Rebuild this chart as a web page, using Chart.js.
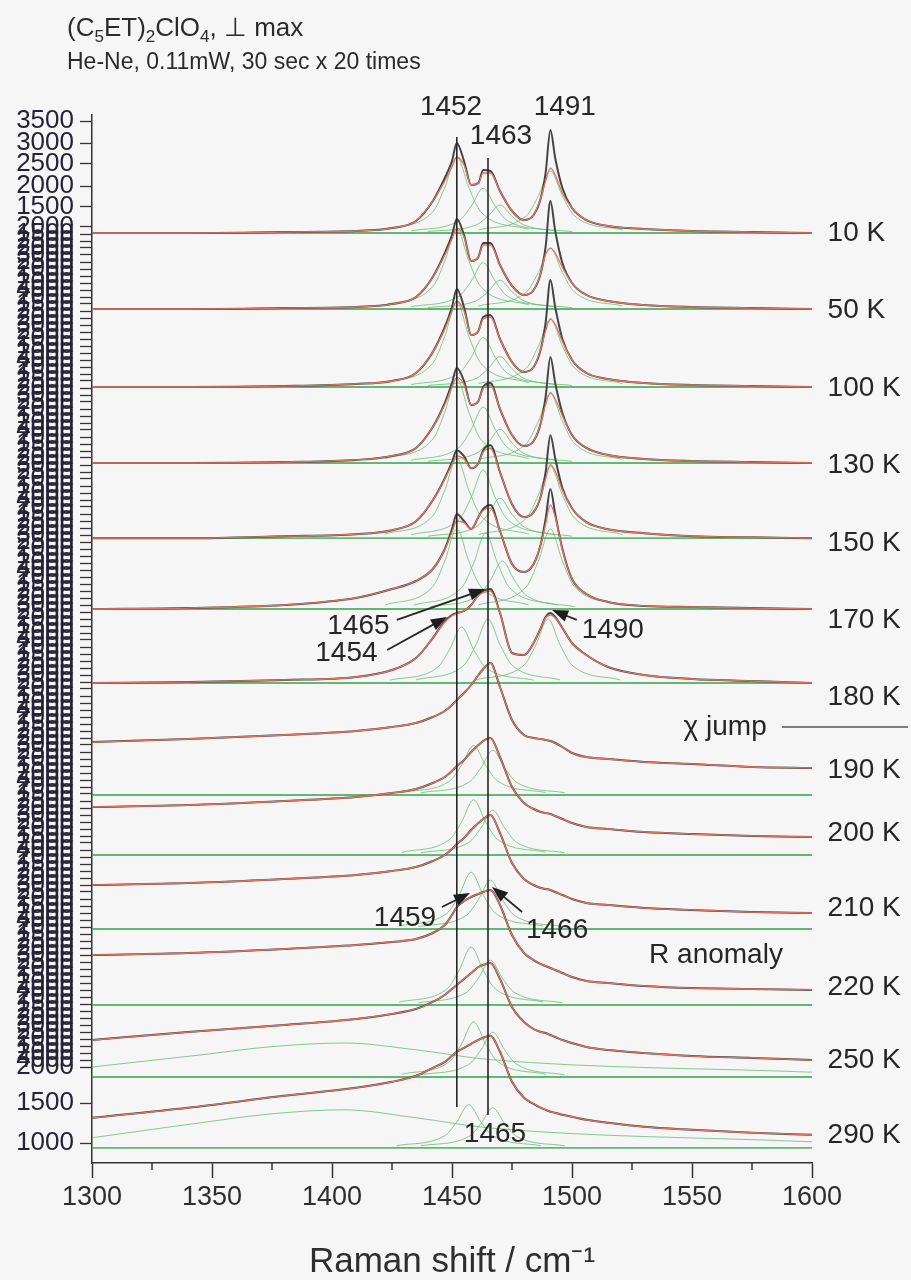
<!DOCTYPE html>
<html>
<head>
<meta charset="utf-8">
<script src="https://cdn.jsdelivr.net/npm/chart.js@4.4.1/dist/chart.umd.min.js"></script>
<style>
html, body { margin: 0; padding: 0; background: #f6f6f6; }
#wrap { position: relative; width: 911px; height: 1280px; }
#chart { position: absolute; left: 0; top: 0; }
.ttl { position: absolute; left: 67px; font-family: 'Liberation Sans', Arial, sans-serif; color: #2b2b2b; white-space: nowrap; }
.ttl sub { font-size: 17px; vertical-align: -6px; line-height: 0; }
</style>
</head>
<body>
<div id="wrap">
  <canvas id="chart" width="911" height="1280"></canvas>
  <div class="ttl" style="top:12px;font-size:26px">(C<sub>5</sub>ET)<sub>2</sub>ClO<sub>4</sub>, &#8869; max</div>
  <div class="ttl" style="top:48px;font-size:23px">He-Ne, 0.11mW, 30 sec x 20 times</div>
</div>
<script>
// Raman shift grid (cm-1) shared by all measured spectra
const ramanShift = [1300,1340,1380,1410,1425,1435,1442,1447,1450,1452,1455,1458,1461,1463,1466,1470,1475,1480,1484,1487,1489,1491,1493,1496,1500,1506,1515,1530,1550,1575,1600];

const temperatures = ['10 K','50 K','100 K','130 K','150 K','170 K','180 K','190 K','200 K','210 K','220 K','250 K','290 K'];
// vertical offset (counts) of every trace = its fitted background level
const baselineLevel = [12375, 11425, 10450, 9500, 8560, 7675, 6750, 5350, 4600, 3675, 2725, 1825, 940];
// height of the temperature label at the right end
const labelLevel = [12375, 11412, 10438, 9475, 8500, 7538, 6575, 5662, 4875, 3938, 2950, 2038, 1100];

// measured (black) and fitted (red) intensities above background, counts
const obs10K  = [0,0,12,25,62,150,400,688,900,1125,900,600,625,788,775,525,275,162,225,438,750,1288,938,562,312,162,88,50,25,12,0];
const fit10K  = [0,0,12,25,62,150,400,650,825,950,850,600,625,750,750,525,275,162,225,438,650,812,725,500,312,162,88,50,25,12,0];
const obs50K  = [0,0,12,25,62,150,400,700,925,1125,925,600,650,825,825,550,288,175,238,450,775,1350,975,575,325,175,100,50,25,12,0];
const fit50K  = [0,0,12,25,62,150,400,675,875,1012,900,600,650,800,800,550,288,175,238,450,680,762,700,520,325,175,100,50,25,12,0];
const obs100K = [0,0,12,38,75,175,438,750,1000,1225,1000,650,700,875,900,600,312,188,250,475,800,1338,1000,600,338,175,100,50,25,12,0];
const fit100K = [0,0,12,38,75,175,438,725,950,1075,950,650,700,850,875,600,312,188,250,475,700,850,780,570,338,175,100,50,25,12,0];
const obs130K = [0,0,12,38,88,188,450,750,1000,1188,1025,725,775,950,1000,675,350,212,275,500,825,1325,1000,625,350,188,100,50,25,12,0];
const fit130K = [0,0,12,38,88,188,450,730,950,1070,980,725,775,930,975,675,350,212,275,500,730,880,800,590,350,188,100,50,25,12,0];
const obs150K = [0,0,25,50,100,212,475,750,950,1100,1025,875,938,1100,1162,825,425,262,325,525,825,1288,1000,625,375,200,112,62,25,12,0];
const fit150K = [0,0,25,50,100,212,475,740,920,1030,990,875,938,1080,1120,825,425,262,325,525,740,920,840,600,375,200,112,62,25,12,0];
const obs170K = [0,12,50,138,250,350,500,750,1000,1188,1100,1000,1150,1250,1300,975,562,462,562,812,1125,1500,1188,750,375,188,88,38,25,12,0];
const fit170K = [0,12,50,138,250,350,500,740,960,1100,1080,1000,1150,1230,1260,975,562,462,562,812,1060,1300,1150,740,375,188,88,38,25,12,0];
const obs180K = [0,12,38,75,162,312,562,775,850,875,900,975,1100,1150,1175,875,375,350,500,688,825,875,825,688,500,350,200,100,50,25,0];
const fit180K = [0,12,38,75,162,312,562,760,840,870,900,975,1090,1130,1150,875,375,350,500,688,815,850,815,688,500,350,200,100,50,25,0];
const obs190K = [662,700,750,800,850,900,975,1050,1125,1188,1275,1375,1500,1575,1650,1350,938,750,712,700,688,675,650,600,525,475,450,412,388,350,338];
const obs200K = [600,625,675,725,775,825,900,975,1050,1112,1188,1288,1375,1425,1462,1225,850,650,575,538,525,512,488,450,400,350,325,288,262,238,225];
const obs210K = [550,575,625,675,725,775,850,925,1000,1062,1138,1238,1325,1375,1425,1200,825,625,550,512,500,488,462,425,375,325,300,262,238,212,200];
const obs220K = [625,650,700,750,788,825,900,1000,1125,1225,1300,1350,1388,1412,1438,1250,875,650,562,512,488,462,438,400,350,300,275,238,212,200,188];
const obs250K = [462,562,650,725,788,850,938,1025,1100,1150,1225,1300,1375,1400,1425,1225,875,688,600,562,550,525,500,462,425,375,338,300,262,238,212];
const obs290K = [375,500,650,750,825,900,1000,1075,1150,1200,1250,1300,1350,1375,1400,1200,825,625,550,500,475,450,438,412,388,350,312,262,225,188,162];

const observedSeries = [obs10K, obs50K, obs100K, obs130K, obs150K, obs170K, obs180K, obs190K, obs200K, obs210K, obs220K, obs250K, obs290K];
const fittedSeries   = [fit10K, fit50K, fit100K, fit130K, fit150K, fit170K, fit180K, obs190K, obs200K, obs210K, obs220K, obs250K, obs290K];

// Lorentzian components (green): [centre, heights at the offsets below, kind]
const narrowOffsets = [-30,-10,-5,0,5,10,30];
const broadOffsets  = [-105,-60,-30,0,30,60,195];
const comp10K  = [[1452,[45,265,570,950,570,265,45]],[1463,[28,155,335,560,335,155,28]],[1470,[18,100,210,350,210,100,18]],[1491,[38,215,465,775,465,215,38]]];
const comp50K  = [[1452,[50,280,600,1000,600,280,50]],[1463,[29,162,348,580,348,162,29]],[1470,[18,100,216,360,216,100,18]],[1491,[38,212,456,760,456,212,38]]];
const comp100K = [[1452,[53,297,636,1060,636,297,53]],[1463,[31,174,372,620,372,174,31]],[1470,[19,106,228,380,228,106,19]],[1491,[42,238,510,850,510,238,42]]];
const comp130K = [[1452,[53,297,636,1060,636,297,53]],[1463,[35,196,420,700,420,196,35]],[1470,[21,118,252,420,252,118,21]],[1491,[44,244,522,870,522,244,44]]];
const comp150K = [[1452,[50,280,600,1000,600,280,50]],[1463,[42,238,510,850,510,238,42]],[1470,[25,140,300,500,300,140,25]],[1491,[45,252,540,900,540,252,45]]];
const comp170K = [[1452,[50,280,600,1000,600,280,50]],[1464,[48,266,570,950,570,266,48]],[1471,[30,168,360,600,360,168,30]],[1491,[50,280,600,1000,600,280,50]]];
const comp180K = [[1454,[35,196,420,700,420,196,35]],[1465,[40,224,480,800,480,224,40]],[1490,[40,224,480,800,480,224,40]]];
const comp190K = [[1459,[31,174,372,620,372,174,31]],[1467,[28,157,336,560,336,157,28]]];
const comp200K = [[1459,[35,193,414,690,414,193,35]],[1467,[28,157,336,560,336,157,28]]];
const comp210K = [[1458,[36,200,426,710,426,200,36]],[1466,[30,170,366,610,366,170,30]]];
const comp220K = [[1458,[36,203,435,725,435,203,36]],[1466,[28,157,336,560,336,157,28]]];
const comp250K = [[1405,[125,275,380,425,340,220,60],'broad'],[1459,[35,193,414,690,414,193,35]],[1467,[28,157,336,560,336,157,28]]];
const comp290K = [[1405,[125,312,425,475,375,250,75],'broad'],[1457,[27,151,324,540,324,151,27]],[1467,[25,140,300,500,300,140,25]]];
const componentSeries = [comp10K, comp50K, comp100K, comp130K, comp150K, comp170K, comp180K, comp190K, comp200K, comp210K, comp220K, comp250K, comp290K];

// y tick labels (every layer of the original has its own axis, so they pile up)
const yTopTickValues = [13775, 13500, 13238, 12962, 12700];
const yTopTickLabels = ['3500', '3000', '2500', '2000', '1500'];
const yStackLabels = ['2000', '1500', '2500', '2000', '3000', '2500', '2000', '1500', '2000', '4000'];
const yStackFrom = 1875, yStackTo = 12450, yStackStep = 87.5;
const yBottomTickValues = [1500, 1000];
const yBottomTickLabels = ['1500', '1000'];
const xMinorTicks = [1325, 1375, 1425, 1475, 1525, 1575];

// marked peak positions and notes (Raman shift, counts)
const peakLines = [{at: 1452, from: 13575, to: 1450}, {at: 1465, from: 13312, to: 1350}];
const peakNotes = [
  {text: '1452', x: 1449.6, y: 13950}, {text: '1491', x: 1497, y: 13950}, {text: '1463', x: 1470.4, y: 13588},
  {text: '1465', x: 1411, y: 7462}, {text: '1454', x: 1406, y: 7125}, {text: '1490', x: 1517, y: 7412},
  {text: '1459', x: 1430.4, y: 3812}, {text: '1466', x: 1493.8, y: 3662}, {text: 'R anomaly', x: 1560, y: 3350},
  {text: '1465', x: 1467.9, y: 1112}, {text: '\u03C7 jump', x: 1563.8, y: 6200}
];
const peakArrows = [
  {from: [1427, 7538], to: [1463.8, 7925]}, {from: [1423, 7162], to: [1447.9, 7575]},
  {from: [1502, 7538], to: [1491.7, 7662]}, {from: [1445.8, 3950], to: [1457.5, 4125]},
  {from: [1479.2, 3888], to: [1466.7, 4200]}
];
const jumpLine = {from: 1587.5, to: 1640, y: 6200};

const yTicks = [];
yTopTickValues.forEach((v, i) => yTicks.push({value: v, label: yTopTickLabels[i]}));
for (let v = yStackTo, k = 0; v >= yStackFrom; v -= yStackStep, k++) {
  yTicks.push({value: v, label: yStackLabels[k % yStackLabels.length]});
}
yBottomTickValues.forEach((v, i) => yTicks.push({value: v, label: yBottomTickLabels[i]}));

const GREEN = 'rgba(72,170,95,0.85)';
const GREEN_LIGHT = 'rgba(95,185,110,0.75)';
const RED = '#e3735f';
const DARK = '#454545';

const datasets = [];
temperatures.forEach((t, i) => {
  const base = baselineLevel[i];
  datasets.push({
    label: t + ' background',
    data: [{x: 1300, y: base}, {x: 1600, y: base}],
    borderColor: GREEN, borderWidth: 1.8, order: 3
  });
  componentSeries[i].forEach(c => {
    const offs = c[2] === 'broad' ? broadOffsets : narrowOffsets;
    datasets.push({
      label: t + ' ' + c[0],
      data: offs.map((o, j) => ({x: c[0] + o, y: base + c[1][j]})),
      borderColor: GREEN_LIGHT, borderWidth: 1, order: 4,
      cubicInterpolationMode: 'monotone'
    });
  });
  datasets.push({
    label: t + ' measured',
    data: ramanShift.map((x, j) => ({x, y: base + observedSeries[i][j]})),
    borderColor: DARK, borderWidth: 2, order: 2,
    cubicInterpolationMode: 'monotone'
  });
  datasets.push({
    label: t + ' fit',
    data: ramanShift.map((x, j) => ({x, y: base + fittedSeries[i][j]})),
    borderColor: RED, borderWidth: 1.3, order: 1,
    cubicInterpolationMode: 'monotone'
  });
});

const notesPlugin = {
  id: 'notes',
  afterDraw(chart) {
    const {ctx, scales: {x, y}} = chart;
    ctx.save();
    ctx.strokeStyle = '#262626';
    ctx.lineWidth = 1.6;
    peakLines.forEach(l => {
      ctx.beginPath();
      ctx.moveTo(x.getPixelForValue(l.at), y.getPixelForValue(l.from));
      ctx.lineTo(x.getPixelForValue(l.at), y.getPixelForValue(l.to));
      ctx.stroke();
    });
    // arrows
    ctx.fillStyle = '#1e1e1e';
    ctx.lineWidth = 1.8;
    peakArrows.forEach(a => {
      const x0 = x.getPixelForValue(a.from[0]), y0 = y.getPixelForValue(a.from[1]);
      const x1 = x.getPixelForValue(a.to[0]), y1 = y.getPixelForValue(a.to[1]);
      const ang = Math.atan2(y1 - y0, x1 - x0);
      ctx.beginPath();
      ctx.moveTo(x0, y0);
      ctx.lineTo(x1 - 10 * Math.cos(ang), y1 - 10 * Math.sin(ang));
      ctx.stroke();
      ctx.beginPath();
      ctx.moveTo(x1, y1);
      ctx.lineTo(x1 - 16 * Math.cos(ang) + 6 * Math.sin(ang), y1 - 16 * Math.sin(ang) - 6 * Math.cos(ang));
      ctx.lineTo(x1 - 16 * Math.cos(ang) - 6 * Math.sin(ang), y1 - 16 * Math.sin(ang) + 6 * Math.cos(ang));
      ctx.closePath();
      ctx.fill();
    });
    // chi jump marker line
    ctx.strokeStyle = '#555';
    ctx.lineWidth = 1.4;
    ctx.beginPath();
    ctx.moveTo(x.getPixelForValue(jumpLine.from), y.getPixelForValue(jumpLine.y));
    ctx.lineTo(x.getPixelForValue(jumpLine.to), y.getPixelForValue(jumpLine.y));
    ctx.stroke();
    // x minor ticks
    ctx.strokeStyle = '#333';
    ctx.lineWidth = 1.5;
    xMinorTicks.forEach(v => {
      const px = x.getPixelForValue(v);
      ctx.beginPath();
      ctx.moveTo(px, chart.chartArea.bottom);
      ctx.lineTo(px, chart.chartArea.bottom + 7);
      ctx.stroke();
    });
    // texts
    ctx.fillStyle = '#262626';
    ctx.font = '28px "Liberation Sans", Arial, sans-serif';
    ctx.textAlign = 'center';
    ctx.textBaseline = 'middle';
    peakNotes.forEach(n => ctx.fillText(n.text, x.getPixelForValue(n.x), y.getPixelForValue(n.y)));
    ctx.textAlign = 'left';
    temperatures.forEach((t, i) => ctx.fillText(t, x.getPixelForValue(1606.5), y.getPixelForValue(labelLevel[i])));
    ctx.restore();
  }
};

Chart.defaults.font.family = "'Liberation Sans', Arial, sans-serif";

new Chart(document.getElementById('chart'), {
  type: 'line',
  data: {datasets},
  options: {
    responsive: false,
    animation: false,
    layout: {padding: {left: 0, right: 99, top: 115, bottom: 0}},
    elements: {point: {radius: 0}, line: {tension: 0}},
    plugins: {legend: {display: false}, tooltip: {enabled: false}},
    scales: {
      x: {
        type: 'linear', min: 1300, max: 1600,
        afterFit: s => { s.height = 117; },
        ticks: {stepSize: 50, color: '#2e2e2e', font: {size: 27}, padding: 3, maxRotation: 0,
                callback: v => String(v)},
        grid: {drawOnChartArea: false, tickLength: 15, tickColor: '#333', tickWidth: 1.5},
        border: {color: '#333', width: 1.5},
        title: {display: true, text: 'Raman shift / cm\u207B\u00B9', color: '#2e2e2e', font: {size: 35, lineHeight: 1}, padding: {top: 0, bottom: 0}}
      },
      y: {
        type: 'linear', min: 750, max: 13850,
        afterFit: s => { s.width = 92; },
        afterBuildTicks: s => { s.ticks = yTicks.map(t => ({value: t.value})); },
        ticks: {autoSkip: false, color: '#262335', font: {size: 26}, padding: 6,
                callback: (v, i) => yTicks[i] ? yTicks[i].label : ''},
        grid: {drawOnChartArea: false, tickLength: 12, tickColor: '#333', tickWidth: 1.3},
        border: {color: '#333', width: 1.5}
      }
    }
  },
  plugins: [notesPlugin]
});
</script>
</body>
</html>
